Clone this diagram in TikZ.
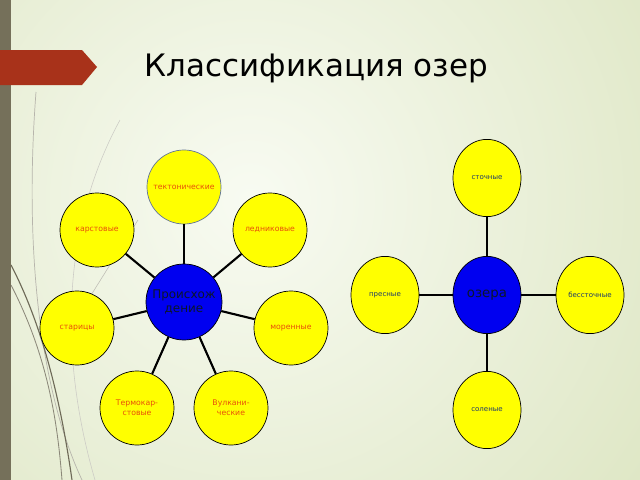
\documentclass[tikz,border=0pt]{standalone}
\usepackage{fontspec}
\setmainfont{DejaVu Sans}
\usetikzlibrary{shapes.geometric}
\definecolor{barbrown}{HTML}{75705A}
\definecolor{arrowred}{HTML}{A8321A}
\definecolor{bgpale}{HTML}{F8FBF2}
\definecolor{bggreen}{HTML}{D6E0B6}
\definecolor{lakeblue}{HTML}{0000F0}
\definecolor{lakeyellow}{HTML}{FFFF00}
\definecolor{labelorange}{HTML}{E8500A}
\definecolor{labelnavy}{HTML}{1F3A6A}
\definecolor{swirl}{HTML}{6E6A58}
\begin{document}
\begin{tikzpicture}[x=0.025cm,y=-0.025cm,
  leaf/.style={circle,draw=black,line width=0.5pt,fill=lakeyellow,minimum size=1.85cm,inner sep=0pt,
    align=center,text=labelorange,font=\fontsize{5.5}{7}\selectfont},
  hub/.style={circle,draw=black,line width=0.5pt,fill=lakeblue,minimum size=1.9cm,inner sep=0pt,
    align=center,text=labelnavy!40!black,font=\fontsize{8.5}{10}\selectfont},
  oval/.style={ellipse,draw=black,line width=0.5pt,fill=lakeyellow,minimum width=1.7cm,minimum height=1.93cm,
    inner sep=0pt,align=center,text=labelnavy,font=\fontsize{5}{6}\selectfont},
  spoke/.style={line width=1.5pt,black}]
\useasboundingbox (0,0) rectangle (640,480);
\begin{scope}
\clip (0,0) rectangle (640,480);
\shade[inner color=bgpale,outer color=bggreen] (-400,-450) rectangle (900,850);
\draw[swirl!50,line width=0.5pt] (36,92) .. controls (24,250) and (40,390) .. (82,480);
\draw[swirl,line width=0.8pt] (11,265) .. controls (45,330) and (62,410) .. (72,480);
\draw[swirl!80,line width=0.6pt] (11,285) .. controls (50,360) and (58,430) .. (62,480);
\draw[swirl!35,line width=0.4pt] (120,120) .. controls (60,230) and (60,360) .. (95,480);
\draw[swirl!45,line width=0.4pt] (138,220) -- (88,300);
\end{scope}
\fill[barbrown] (0,0) rectangle (11,480);
\fill[arrowred] (0,50) -- (82,50) -- (97,67) -- (82,85) -- (0,85) -- cycle;
\node[anchor=west,font=\fontsize{22}{27}\selectfont] (title) at (140,68) {Классификация озер};

\node[hub] (origin) at (184,302) {Происхож\\дение};
\node[leaf,draw=labelnavy!70] (tecto) at (184,187) {тектонические};
\node[leaf] (karst) at (97,230) {карстовые};
\node[leaf] (glacial) at (270,230) {ледниковые};
\node[leaf] (oxbow) at (77,328) {старицы};
\node[leaf] (moraine) at (291,328) {моренные};
\node[leaf] (thermo) at (137,408) {Термокар-\\стовые};
\node[leaf] (volcano) at (231,408) {Вулкани-\\ческие};
\foreach \n in {tecto,karst,glacial,oxbow,moraine,thermo,volcano}
  \draw[spoke] (origin) -- (\n);

\node[oval,fill=lakeblue,text=labelnavy!40!black,font=\fontsize{9.5}{11}\selectfont] (lakes) at (487,295) {озера};
\node[oval] (drain) at (487,178) {сточные};
\node[oval] (fresh) at (385,295) {пресные};
\node[oval] (closed) at (590,295) {бессточные};
\node[oval] (salt) at (487,410) {соленые};
\foreach \n in {drain,fresh,closed,salt}
  \draw[spoke] (lakes) -- (\n);
\end{tikzpicture}
\end{document}
